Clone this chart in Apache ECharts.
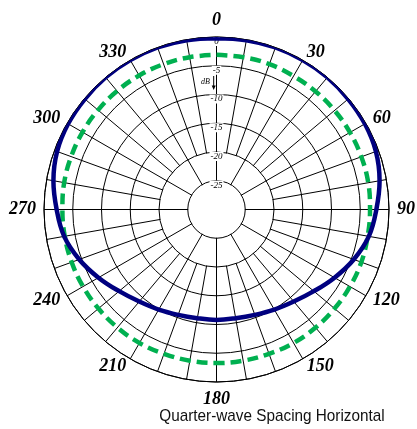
<!DOCTYPE html>
<html>
<head>
<meta charset="utf-8">
<script src="https://cdn.jsdelivr.net/npm/echarts@6/dist/echarts.min.js"></script>
<style>
html,body{margin:0;padding:0;background:#fff;}
#chart{width:417px;height:429px;}
</style>
</head>
<body>
<div id="chart"></div>
<script>
// Angles (degrees, clockwise from top)
const angles = [0,10,20,30,40,50,60,70,80,90,100,110,120,130,140,150,160,170,180,
                190,200,210,220,230,240,250,260,270,280,290,300,310,320,330,340,350,360];
// Array pattern (dB) - solid navy
const patternDb = [-0.2,-0.1,0,0,0,-0.1,-0.2,-0.5,-1.2,-2.2,-3.1,-4.6,-6.3,-7.9,-9.1,-9.9,-10.5,-10.8,-10.8,
                   -10.8,-10.5,-9.9,-9.1,-7.9,-6.3,-4.6,-3.1,-2.2,-1.2,-0.5,-0.2,-0.1,0,0,0,-0.1,-0.2];
// Reference pattern (dB) - dashed green
const referenceDb = [-3.1,-3.1,-3.1,-3.2,-3.2,-3.2,-3.2,-3.2,-3.2,-3.3,-3.3,-3.2,-3.2,-3.2,-3.2,-3.2,-3.3,-3.3,-3.3,
                     -3.3,-3.3,-3.2,-3.2,-3.2,-3.2,-3.2,-3.2,-3.2,-3.1,-3.1,-3.1,-3.1,-3.1,-3.1,-3.1,-3.1,-3.1];
const radiusMin = -30, radiusMax = 0, radiusStep = 5;
const angleLabelStep = 30;
const titleText = 'Quarter-wave Spacing Horizontal';
const unitText = 'dB';

const CX = 216.5, CY = 209.5, R = 172.5;
const rInner1 = R * 10 / 30;   // -20 dB ring
const rInner2 = R * 5 / 30;    // -25 dB ring

const chart = echarts.init(document.getElementById('chart'), null, {renderer: 'canvas'});
const serif = '"Liberation Serif", "Times New Roman", serif';
const angleFont = {fontFamily: serif, fontStyle: 'italic', fontWeight: 'bold', fontSize: 18, color: '#000'};

chart.setOption({
  backgroundColor: '#fff',
  animation: false,
  polar: [
    {center: [CX, CY], radius: R},
    {center: [CX, CY], radius: rInner1}
  ],
  angleAxis: [
    {
      polarIndex: 0, type: 'value', min: 0, max: 360, interval: 10,
      startAngle: 90, clockwise: true, z: 0,
      axisLine: {show: true, lineStyle: {color: '#000', width: 1}},
      axisTick: {show: false},
      axisLabel: Object.assign({
        show: true, margin: 8,
        formatter: v => {
          if (v % angleLabelStep !== 0 || v >= 360) return '';
          return v % 90 === 0 ? String(v) : '{m|' + v + '}';
        },
        rich: {m: Object.assign({lineHeight: 1}, angleFont)}
      }, angleFont),
      splitLine: {show: true, lineStyle: {color: '#000', width: 1}}
    },
    {
      polarIndex: 1, type: 'value', min: 0, max: 360, interval: angleLabelStep,
      startAngle: 90, clockwise: true, z: 2,
      axisLine: {show: false}, axisTick: {show: false}, axisLabel: {show: false},
      splitLine: {show: true, lineStyle: {color: '#000', width: 1}}
    }
  ],
  radiusAxis: [
    {
      polarIndex: 0, type: 'value', min: radiusMin, max: radiusMax, interval: radiusStep, z: 10,
      axisLine: {show: false}, axisTick: {show: false},
      axisLabel: {
        show: true, margin: 0, align: 'center', verticalAlign: 'top',
        formatter: v => v === radiusMin ? '' : String(v),
        fontFamily: serif, fontStyle: 'italic', fontSize: 9, color: '#000',
        backgroundColor: '#fff', padding: [0, 1, 0, 1]
      },
      splitLine: {show: true, lineStyle: {color: '#000', width: 1}}
    },
    {polarIndex: 1, type: 'value', min: 0, max: 1, show: false}
  ],
  graphic: [
    {type: 'circle', z: 1, shape: {cx: CX, cy: CY, r: rInner1 - 0.5}, style: {fill: '#fff', stroke: null}, silent: true},
    {type: 'circle', z: 3, shape: {cx: CX, cy: CY, r: rInner2 - 0.5}, style: {fill: '#fff', stroke: null}, silent: true},
    {type: 'text', z: 30, left: 201, top: 78, style: {text: unitText, font: 'italic 8px ' + serif, fill: '#000'}},
    {type: 'line', z: 30, shape: {x1: 213.7, y1: 76, x2: 213.7, y2: 87}, style: {stroke: '#000', lineWidth: 1}},
    {type: 'polygon', z: 30, shape: {points: [[211.7, 85.5], [215.7, 85.5], [213.7, 90]]}, style: {fill: '#000'}},
    {type: 'text', z: 30, x: 272, y: 416, scaleX: 0.9,
     style: {text: titleText, font: '17px "Liberation Sans", Arial, sans-serif', fill: '#111', align: 'center', verticalAlign: 'middle'}}
  ],
  series: [
    {
      type: 'line', coordinateSystem: 'polar', polarIndex: 0, z: 20,
      data: angles.map((a, i) => [referenceDb[i], a]),
      smooth: 0.4, symbol: 'none',
      lineStyle: {color: '#00b050', width: 4.5, type: [11, 6]}
    },
    {
      type: 'line', coordinateSystem: 'polar', polarIndex: 0, z: 21,
      data: angles.map((a, i) => [patternDb[i], a]),
      smooth: 0.4, symbol: 'none',
      lineStyle: {color: '#000080', width: 4.5}
    }
  ]
});
</script>
</body>
</html>
